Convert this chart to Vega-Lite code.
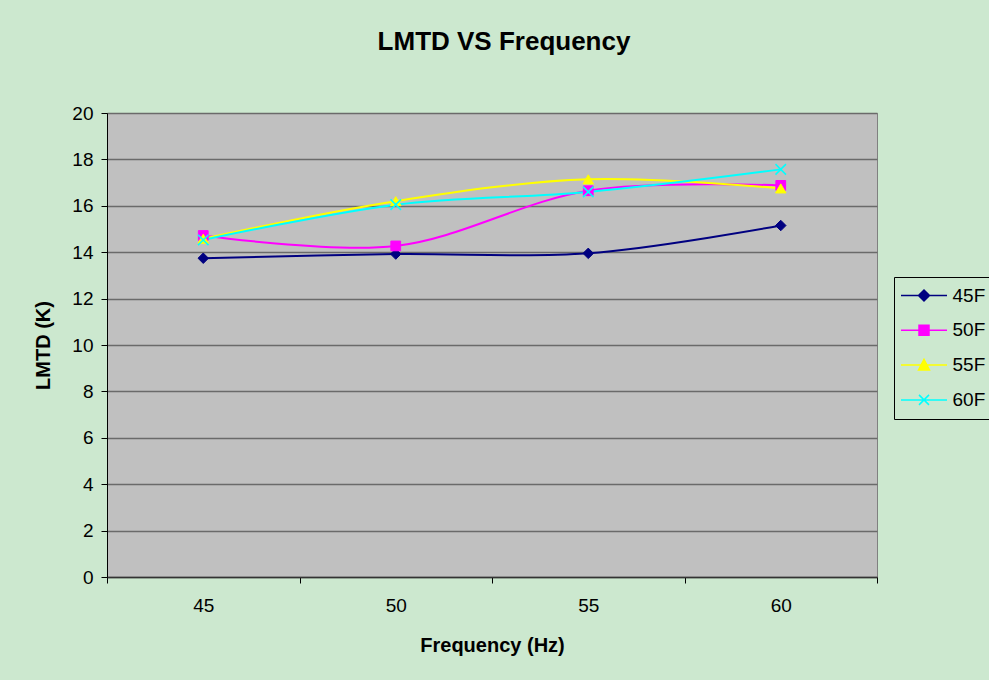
{
  "$schema": "https://vega.github.io/schema/vega-lite/v6.json",
  "width": 770,
  "height": 464,
  "autosize": {"type": "none"},
  "padding": {"left": 107, "top": 113, "right": 112, "bottom": 103},
  "background": "#CCE8CF",
  "title": {
    "text": "LMTD VS Frequency",
    "font": "Liberation Sans",
    "fontSize": 26,
    "fontWeight": "bold",
    "color": "#000000",
    "anchor": "middle",
    "frame": "group",
    "baseline": "alphabetic",
    "dx": 12,
    "offset": 28
  },
  "config": {
    "font": "Liberation Sans",
    "view": {"fill": "#C0C0C0", "stroke": "#808080", "strokeWidth": 1}
  },
  "data": {
    "values": [
      {"series": "45F", "freq": 45, "lmtd": 13.74},
      {"series": "45F", "freq": 50, "lmtd": 13.92},
      {"series": "45F", "freq": 55, "lmtd": 13.95},
      {"series": "45F", "freq": 60, "lmtd": 15.15},
      {"series": "50F", "freq": 45, "lmtd": 14.72},
      {"series": "50F", "freq": 50, "lmtd": 14.27},
      {"series": "50F", "freq": 55, "lmtd": 16.65},
      {"series": "50F", "freq": 60, "lmtd": 16.88},
      {"series": "55F", "freq": 45, "lmtd": 14.58},
      {"series": "55F", "freq": 50, "lmtd": 16.2},
      {"series": "55F", "freq": 55, "lmtd": 17.14},
      {"series": "55F", "freq": 60, "lmtd": 16.75},
      {"series": "60F", "freq": 45, "lmtd": 14.53},
      {"series": "60F", "freq": 50, "lmtd": 16.05},
      {"series": "60F", "freq": 55, "lmtd": 16.6},
      {"series": "60F", "freq": 60, "lmtd": 17.57}
    ]
  },
  "encoding": {
    "x": {
      "field": "freq",
      "type": "quantitative",
      "scale": {"domain": [42.5, 62.5], "nice": false, "zero": false},
      "axis": {
        "values": [42.5, 47.5, 52.5, 57.5, 62.5],
        "labelExpr": "datum.value < 62 ? format(datum.value + 2.5, 'd') : ''",
        "labelOffset": 96.25,
        "labelOverlap": false,
        "labelBound": false,
        "labelFlush": false,
        "labelFontSize": 19,
        "labelColor": "#000000",
        "labelPadding": 13,
        "ticks": true,
        "tickSize": 6,
        "tickColor": "#000000",
        "tickWidth": 1,
        "grid": false,
        "domainColor": "#333333",
        "domainWidth": 1.5,
        "title": "Frequency (Hz)",
        "titleFontSize": 20,
        "titleFontWeight": "bold",
        "titleColor": "#000000",
        "titlePadding": 20
      }
    },
    "y": {
      "field": "lmtd",
      "type": "quantitative",
      "scale": {"domain": [0, 20], "nice": false, "zero": true},
      "axis": {
        "values": [0, 2, 4, 6, 8, 10, 12, 14, 16, 18, 20],
        "labelFontSize": 19,
        "labelColor": "#000000",
        "labelPadding": 8,
        "tickSize": 6,
        "tickColor": "#000000",
        "domainColor": "#000000",
        "domainWidth": 1,
        "grid": true,
        "gridColor": "#6A6A6A",
        "gridWidth": 1.5,
        "title": "LMTD (K)",
        "titleFontSize": 20,
        "titleFontWeight": "bold",
        "titleColor": "#000000",
        "titlePadding": 18
      }
    }
  },
  "layer": [
    {
      "mark": {"type": "line", "interpolate": "catmull-rom", "strokeWidth": 2},
      "encoding": {
        "color": {
          "field": "series",
          "type": "nominal",
          "scale": {
            "domain": ["45F", "50F", "55F", "60F"],
            "range": ["#000080", "#FF00FF", "#FFFF00", "#00FFFF"]
          },
          "legend": {
            "title": null,
            "orient": "none",
            "legendX": 787,
            "legendY": 164,
            "strokeColor": "#000000",
            "padding": 9,
            "rowPadding": 14.8,
            "symbolSize": 100,
            "symbolOffset": 11.5,
            "labelOffset": 19,
            "labelFontSize": 19,
            "labelColor": "#000000",
            "encode": {
              "symbols": {
                "update": {
                  "shape": {"signal": "datum.value === '45F' ? 'M-4.6,0L4.6,0M0,-1.1L1.1,0L0,1.1L-1.1,0Z' : datum.value === '50F' ? 'M-4.6,0L4.6,0M-1,-1L1,-1L1,1L-1,1Z' : datum.value === '55F' ? 'M-4.6,0L4.6,0M0,-1.15L1.1,1L-1.1,1Z' : 'M-4.6,0L4.6,0M-1,-1L1,1M-1,1L1,-1'"},
                  "fill": {"scale": "color", "field": "value"},
                  "stroke": {"scale": "color", "field": "value"},
                  "strokeWidth": {"value": 1.5},
                  "size": {"value": 100},
                  "opacity": {"value": 1},
                  "fillOpacity": {"value": 1},
                  "strokeOpacity": {"value": 1}
                }
              }
            }
          }
        }
      }
    },
    {
      "transform": [{"filter": "datum.series === '45F'"}],
      "mark": {"type": "point", "shape": "diamond", "filled": true, "opacity": 1, "size": 110, "fill": "#000080", "stroke": "#000080", "strokeWidth": 1}
    },
    {
      "transform": [{"filter": "datum.series === '50F'"}],
      "mark": {"type": "point", "shape": "square", "filled": true, "opacity": 1, "size": 95, "fill": "#FF00FF", "stroke": "#FF00FF", "strokeWidth": 1}
    },
    {
      "transform": [{"filter": "datum.series === '55F'"}],
      "mark": {"type": "point", "shape": "triangle-up", "filled": true, "opacity": 1, "size": 110, "fill": "#FFFF00", "stroke": "#FFFF00", "strokeWidth": 1}
    },
    {
      "transform": [{"filter": "datum.series === '60F'"}],
      "mark": {"type": "point", "shape": "M-1,-1L1,1M-1,1L1,-1", "filled": false, "opacity": 1, "size": 110, "stroke": "#00FFFF", "strokeWidth": 1.5}
    }
  ]
}
